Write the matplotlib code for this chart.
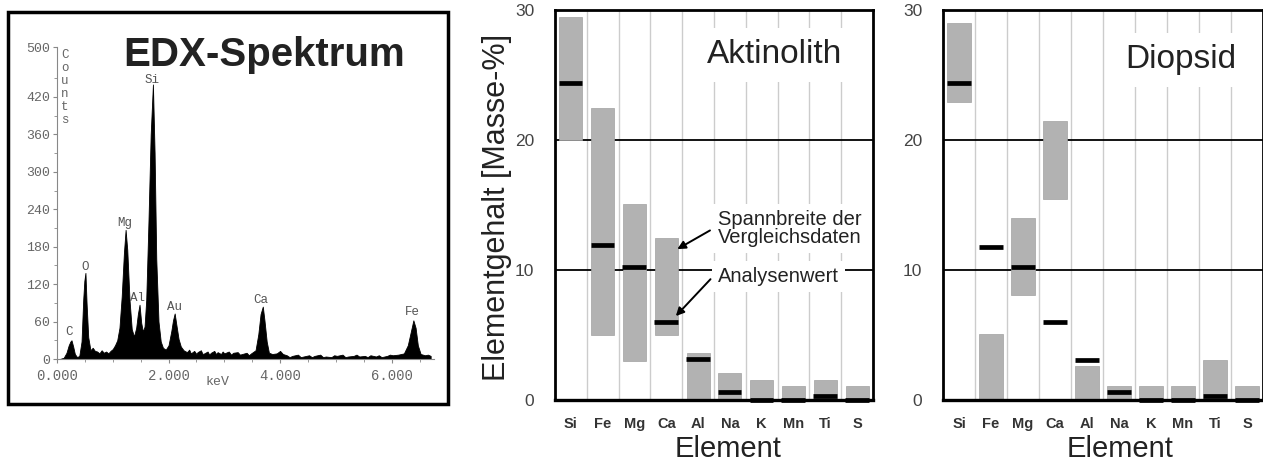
import numpy as np
import matplotlib.pyplot as plt
from matplotlib.patches import Rectangle

plt.rcParams['font.family'] = ['Liberation Sans', 'DejaVu Sans']

# EDX spectrum (keV, counts)
kev = [0.05, 0.12, 0.17, 0.21, 0.24, 0.26, 0.29, 0.32, 0.36, 0.40, 0.44, 0.47,
       0.49, 0.51, 0.53, 0.56, 0.60, 0.64, 0.68, 0.72, 0.76, 0.80, 0.84, 0.88,
       0.92, 0.96, 1.00, 1.04, 1.08, 1.12, 1.16, 1.20, 1.23, 1.26, 1.30, 1.34,
       1.38, 1.42, 1.45, 1.48, 1.51, 1.54, 1.57, 1.60, 1.64, 1.68, 1.72, 1.75,
       1.78, 1.82, 1.86, 1.90, 1.95, 2.00, 2.05, 2.08, 2.11, 2.14, 2.18, 2.22,
       2.27, 2.33, 2.37, 2.40, 2.46, 2.50, 2.52, 2.58, 2.61, 2.64, 2.70, 2.73,
       2.76, 2.82, 2.85, 2.88, 2.94, 2.97, 3.00, 3.08, 3.12, 3.16, 3.24, 3.28,
       3.32, 3.40, 3.44, 3.48, 3.56, 3.61, 3.65, 3.69, 3.72, 3.76, 3.80, 3.86,
       3.94, 4.00, 4.05, 4.12, 4.17, 4.22, 4.32, 4.37, 4.42, 4.52, 4.57, 4.62,
       4.72, 4.77, 4.82, 4.92, 4.97, 5.02, 5.12, 5.17, 5.22, 5.32, 5.37, 5.42,
       5.52, 5.57, 5.62, 5.72, 5.77, 5.82, 5.92, 5.97, 6.02, 6.12, 6.22, 6.29,
       6.34, 6.39, 6.43, 6.47, 6.52, 6.60, 6.65, 6.70]
counts = [0, 2, 10, 22, 28, 30, 20, 8, 3, 5, 28, 95,
          125, 138, 90, 35, 14, 18, 13, 12, 9, 14, 10, 12,
          9, 13, 16, 22, 30, 50, 100, 170, 207, 175, 95, 48,
          36, 50, 72, 87, 58, 44, 52, 95, 220, 360, 440, 330,
          160, 60, 28, 18, 15, 22, 45, 62, 73, 55, 32, 20,
          14, 11, 15, 9, 13, 8, 11, 14, 8, 9, 12, 7,
          10, 13, 8, 11, 8, 12, 9, 12, 7, 10, 11, 7,
          8, 10, 6, 9, 14, 40, 72, 84, 62, 28, 10, 8,
          9, 13, 8, 6, 3, 5, 7, 3, 4, 6, 3, 5,
          7, 3, 4, 3, 6, 5, 7, 3, 4, 5, 7, 4,
          5, 3, 6, 4, 6, 3, 5, 7, 6, 7, 9, 22,
          42, 62, 50, 22, 8, 6, 7, 5]
peak_names = ['C', 'O', 'Mg', 'Al', 'Si', 'Au', 'Ca', 'Fe']
peak_kev = [0.215, 0.50, 1.21, 1.45, 1.71, 2.10, 3.66, 6.37]
peak_lab_y = [43, 147, 218, 98, 447, 84, 95, 75]

elements = ['Si', 'Fe', 'Mg', 'Ca', 'Al', 'Na', 'K', 'Mn', 'Ti', 'S']

# Aktinolith: range of reference data (low, high) and measured value
akt_low = [20.0, 5.0, 3.0, 5.0, 0.0, 0.0, 0.0, 0.0, 0.0, 0.0]
akt_high = [29.5, 22.5, 15.1, 12.5, 3.6, 2.1, 1.55, 1.08, 1.55, 1.08]
akt_val = [24.4, 11.9, 10.25, 6.0, 3.15, 0.64, 0.0, 0.0, 0.3, 0.0]

# Diopsid
dio_low = [22.95, 0.0, 8.1, 15.5, 0.0, 0.0, 0.0, 0.0, 0.0, 0.0]
dio_high = [29.0, 5.1, 14.0, 21.5, 2.6, 1.08, 1.08, 1.08, 3.08, 1.08]
dio_val = [24.4, 11.8, 10.25, 6.0, 3.1, 0.6, 0.0, 0.0, 0.3, 0.0]

W, H = 1263, 466
fig = plt.figure(figsize=(W / 100, H / 100), dpi=100)
fig.patch.set_facecolor('white')

# ---- EDX panel ----
fig.patches.append(Rectangle((8 / W, 1 - 404 / H), 440 / W, 392 / H, transform=fig.transFigure,
                             fill=False, edgecolor='black', linewidth=2.5, figure=fig))
ax0 = fig.add_axes([57 / W, 1 - 359 / H, 377 / W, 312 / H])
ax0.fill_between(kev, 0, counts, color='black', linewidth=0.6, edgecolor='black')
ax0.set_xlim(0, 6.76)
ax0.set_ylim(0, 500)
for s in ['top', 'right']:
    ax0.spines[s].set_visible(False)
for s in ['left', 'bottom']:
    ax0.spines[s].set_color('#888888')
    ax0.spines[s].set_linewidth(0.8)
mono = 'Liberation Mono'
ax0.set_xticks([0, 2, 4, 6])
ax0.set_xticklabels(['0.000', '2.000', '4.000', '6.000'], fontfamily=mono, fontsize=10, color='#666666')
ax0.set_yticks([0, 60, 120, 180, 240, 300, 360, 420, 500])
ax0.set_yticklabels(['0', '60', '120', '180', '240', '300', '360', '420', '500'],
                    fontfamily=mono, fontsize=9.5, color='#666666')
ax0.set_yticks(np.arange(30, 500, 60), minor=True)
ax0.set_xticks(np.arange(0.5, 6.7, 0.5), minor=True)
ax0.tick_params(axis='both', which='major', colors='#888888', length=3, width=0.8, pad=2)
ax0.tick_params(axis='both', which='minor', colors='#888888', length=2, width=0.6)
ax0.tick_params(axis='x', labelcolor='#666666', pad=4)
ax0.tick_params(axis='y', labelcolor='#666666')
for name, x, y in zip(peak_names, peak_kev, peak_lab_y):
    ax0.text(x, y, name, ha='center', va='center', fontfamily=mono, fontsize=9, color='#555555')
ax0.text(0.14, 435, 'C\no\nu\nn\nt\ns', ha='center', va='center', fontfamily=mono,
         fontsize=9, color='#666666', linespacing=1.1)
ax0.text(2.87, -37, 'keV', ha='center', va='center', fontfamily=mono, fontsize=9.5,
         color='#666666', clip_on=False)
ax0.text(3.72, 487, 'EDX-Spektrum', ha='center', va='center', fontsize=29,
         fontweight='bold', color='#222222', clip_on=False)


def element_panel(ax, low, high, val, title, tx, ty):
    x = np.arange(len(elements))
    ax.set_xlim(-0.5, len(elements) - 0.5)
    ax.set_ylim(0, 30)
    for b in np.arange(0.5, len(elements) - 0.5, 1):
        ax.axvline(b, color='#cccccc', linewidth=1.0, zorder=0)
    for g in [10, 20]:
        ax.axhline(g, color='black', linewidth=1.3, zorder=1)
    ax.bar(x, np.array(high) - np.array(low), bottom=low, width=0.72, color='#b2b2b2',
           edgecolor='#a0a0a0', linewidth=0.5, zorder=2)
    ax.hlines(val, x - 0.38, x + 0.36, color='black', linewidth=3.4, zorder=6, clip_on=False)
    for s in ax.spines.values():
        s.set_linewidth(2.0)
        s.set_zorder(5)
    ax.spines['bottom'].set_linewidth(2.4)
    ax.set_xticks(x)
    ax.set_xticklabels(elements, fontsize=10.5, fontweight='bold', color='#333333')
    ax.set_yticks([0, 10, 20, 30])
    ax.set_yticklabels(['0', '10', '20', '30'], fontsize=12.5, color='#444444')
    ax.tick_params(axis='both', length=0)
    ax.tick_params(axis='x', pad=12)
    ax.tick_params(axis='y', pad=15)
    ax.text(tx, ty, title, transform=ax.transAxes, ha='center', va='center', fontsize=24,
            color='#222222', zorder=3,
            bbox=dict(boxstyle='square,pad=0.35', facecolor='white', edgecolor='none'))


ax1 = fig.add_axes([555 / W, 1 - 400 / H, 318 / W, 390 / H])
element_panel(ax1, akt_low, akt_high, akt_val, 'Aktinolith', 0.692, 0.885)
ax1.text(0.544, -0.125, 'Element', transform=ax1.transAxes, ha='center', va='center',
         fontsize=21, color='#222222')
fig.text(497 / W, 1 - 207 / H, 'Elementgehalt [Masse-%]', rotation=90, ha='center',
         va='center', fontsize=22, color='#222222')
ax1.text(4.63, 13.2, 'Spannbreite der\nVergleichsdaten', ha='left', va='center',
         fontsize=14.5, color='#222222', linespacing=0.95, zorder=3,
         bbox=dict(boxstyle='square,pad=0.3', facecolor='white', edgecolor='none'))
ax1.text(4.63, 9.5, 'Analysenwert', ha='left', va='center', fontsize=14.5,
         color='#222222', zorder=3,
         bbox=dict(boxstyle='square,pad=0.3', facecolor='white', edgecolor='none'))
ax1.annotate('', xy=(3.27, 11.5), xytext=(4.45, 13.15),
             arrowprops=dict(arrowstyle='-|>', color='black', lw=1.4, mutation_scale=12), zorder=7)
ax1.annotate('', xy=(3.24, 6.3), xytext=(4.45, 9.45),
             arrowprops=dict(arrowstyle='-|>', color='black', lw=1.4, mutation_scale=12), zorder=7)

ax2 = fig.add_axes([943 / W, 1 - 400 / H, 320 / W, 390 / H])
element_panel(ax2, dio_low, dio_high, dio_val, 'Diopsid', 0.744, 0.872)
ax2.text(0.553, -0.125, 'Element', transform=ax2.transAxes, ha='center', va='center',
         fontsize=21, color='#222222')

plt.savefig('out.png', dpi=100)
